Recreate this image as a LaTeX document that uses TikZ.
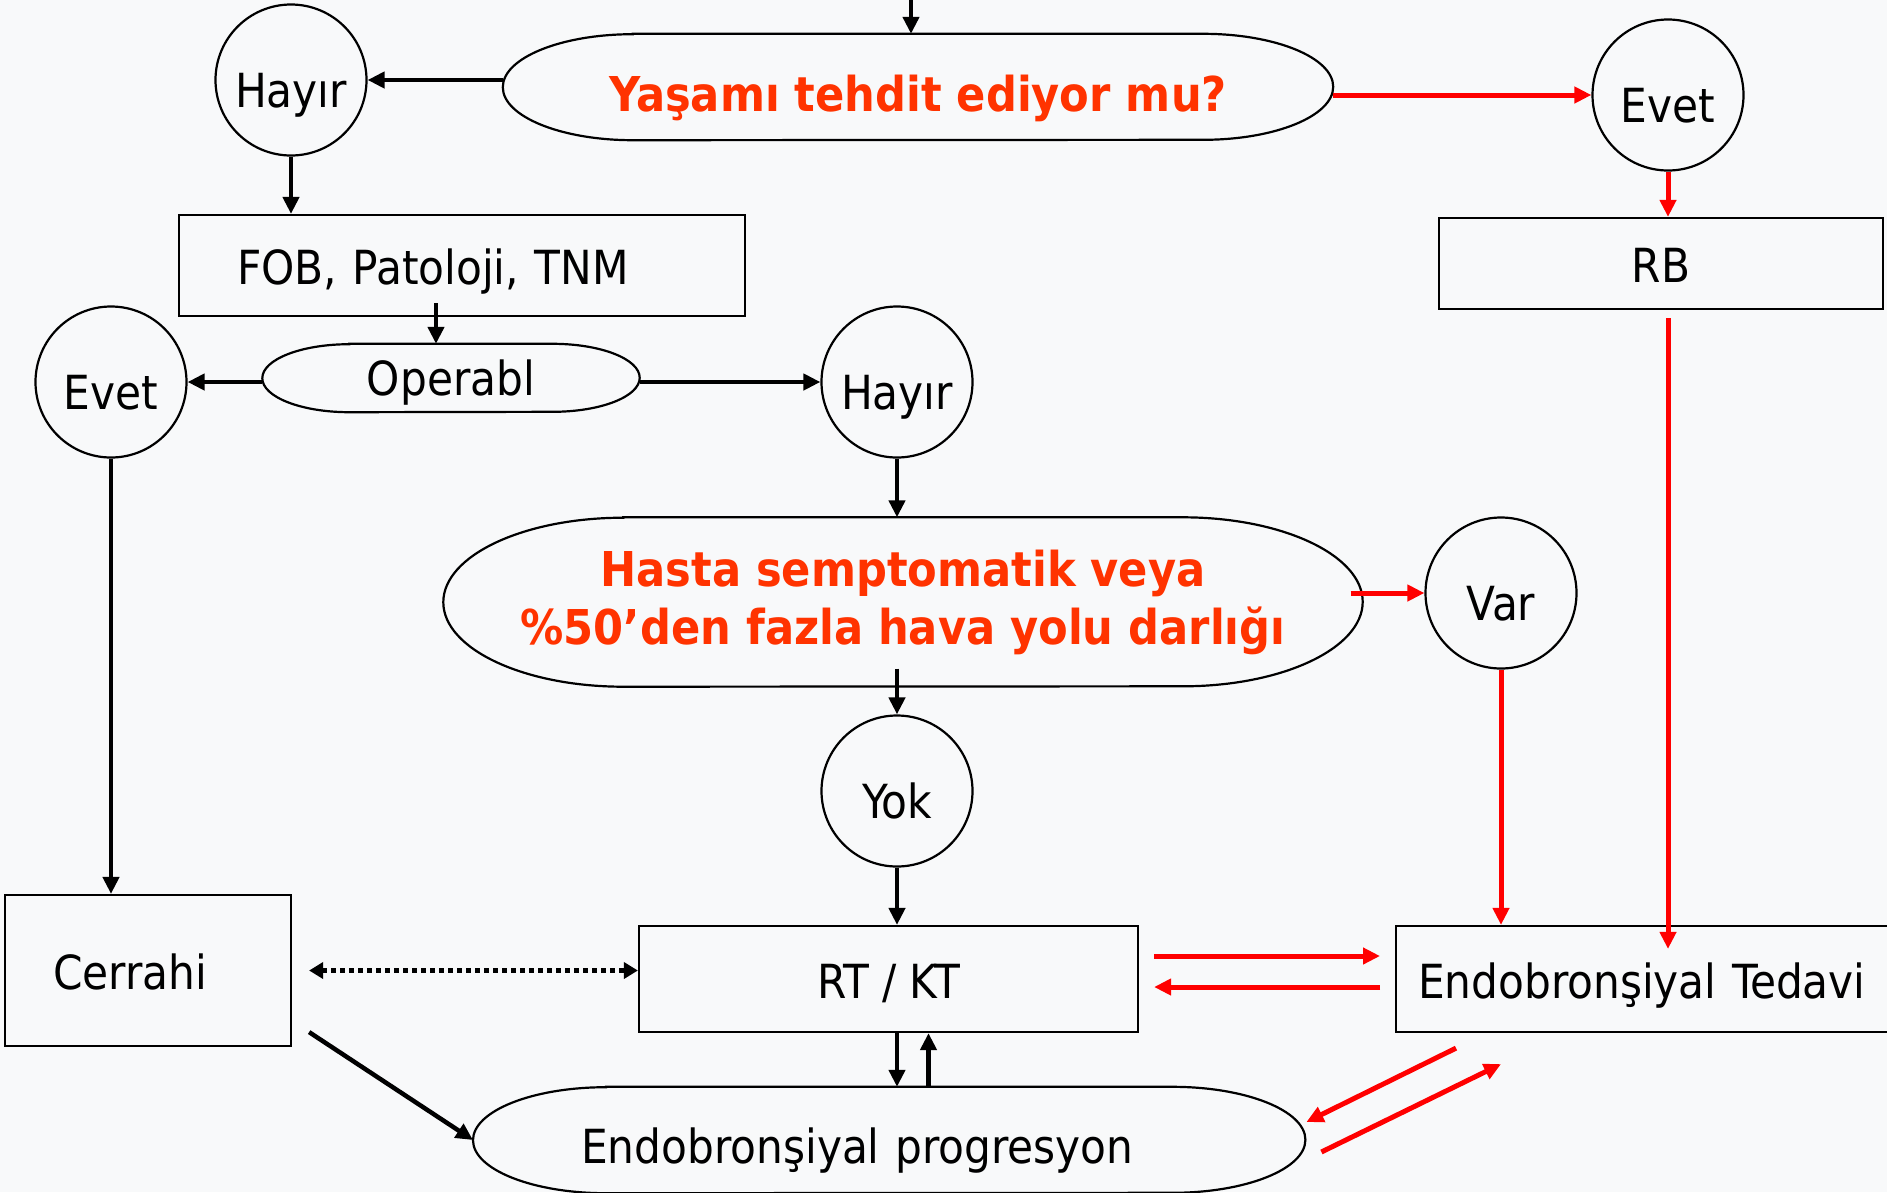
\documentclass[tikz,border=0pt]{standalone}
\usepackage{fontspec}
\setmainfont{DejaVu Sans Condensed}
\usetikzlibrary{arrows.meta}
\definecolor{bg}{RGB}{248,249,250}
\definecolor{que}{RGB}{255,51,0}
\definecolor{yes}{RGB}{255,0,0}
% pill outline round a named node: #1 node, #2 x radius, #3 y radius
\newcommand{\pill}[3]{%
  \draw[line width=2.2pt] ([xshift=#2pt]#1.north west) -- ([xshift=-#2pt]#1.north east)
    arc[start angle=90, end angle=-90, x radius=#2pt, y radius=#3pt]
    -- ([xshift=#2pt]#1.south west)
    arc[start angle=270, end angle=90, x radius=#2pt, y radius=#3pt] -- cycle;}
\tikzset{
  txt/.style={font=\fontsize{47}{56}\selectfont},
  ask/.style={font=\fontsize{48}{58}\selectfont\bfseries, text=que, align=center},
  ring/.style={circle, draw, line width=2.2pt, minimum size=151pt, inner sep=0pt, txt,
    text height=54pt, text depth=0pt},
  box/.style={rectangle, draw, line width=2.2pt, inner sep=0pt, txt,
    text height=38pt, text depth=0pt},
  pillnode/.style={inner sep=0pt},
  arr/.style={-{Triangle[length=17pt,width=16pt]}, line width=4.5pt},
  redarr/.style={arr, draw=yes, line width=5pt},
  dotarr/.style={{Triangle[length=14pt,width=16pt]}-{Triangle[length=14pt,width=16pt]},
    line width=4.5pt, dash pattern=on 5pt off 4pt},
}
\begin{document}
\begin{tikzpicture}[x=1pt, y=-1pt]
  \useasboundingbox (0,0) rectangle (1887,1192);
  \clip (0,0) rectangle (1887,1192);
  \fill[bg] (0,0) rectangle (1887,1192);

  % top question
  \node[pillnode, ask, text height=48pt, text depth=0pt, minimum width=830pt, minimum height=106pt] (yasam) at (918,87) {Yaşamı tehdit ediyor mu?};
  \pill{yasam}{130}{53}
  \node[ring] (hayir1) at (291,80) {Hayır};
  \node[ring] (evet1) at (1668,95) {Evet};
  \node[box, minimum width=444pt, minimum height=91pt] (rb) at (1661,263.5) {RB};
  \node[box, inner xsep=58pt, text width=450pt, align=left, minimum height=101pt] (fob) at (462,265.5) {FOB, Patoloji, TNM};

  % operability
  \node[pillnode, txt, text height=34pt, text depth=0pt, minimum width=377pt, minimum height=68pt] (operabl) at (451,378) {Operabl};
  \pill{operabl}{87}{34}
  \node[ring] (evet2) at (111,382) {Evet};
  \node[ring] (hayir2) at (897,382) {Hayır};

  % symptoms
  \node[pillnode, ask, minimum width=919pt, minimum height=169pt] (hasta) at (903,602) {Hasta semptomatik veya\\\%50’den fazla hava yolu darlığı};
  \pill{hasta}{180}{84.5}
  \node[ring] (var) at (1501,593) {Var};
  \node[ring] (yok) at (897,791) {Yok};

  % treatments
  \node[box, inner xsep=48pt, text width=190pt, align=left, minimum height=151pt] (cerrahi) at (148,970.5) {Cerrahi};
  \node[box, minimum width=499pt, minimum height=106pt] (rtkt) at (888.5,979) {RT / KT};
  \node[box, anchor=west, inner xsep=22pt, text width=483pt, align=left, minimum height=106pt] (tedavi) at (1395,979) {Endobronşiyal Tedavi};
  \node[pillnode, txt, text height=46pt, text depth=0pt, anchor=west, inner xsep=108pt, text width=616pt, align=left, minimum height=106pt] (progresyon) at (473,1140) {Endobronşiyal progresyon};
  \pill{progresyon}{133}{53}

  % connectors
  \coordinate (entry) at (911,0);
  \draw[arr] (entry) -- (entry |- yasam.north);
  \draw[arr] (yasam.west |- hayir1.east) -- (hayir1.east);
  \draw[redarr] (yasam.east |- evet1.west) -- (evet1.west);
  \draw[redarr] (evet1.south) -- (evet1.south |- rb.north);
  \draw[arr] (hayir1.south) -- (hayir1.south |- fob.north);
  \draw[arr] ([xshift=-26pt,yshift=14pt]fob.south) -- ([xshift=-15pt]operabl.north);
  \draw[arr] (operabl.west |- evet2.east) -- (evet2.east);
  \draw[arr] (operabl.east |- hayir2.west) -- (hayir2.west);
  \draw[arr] (hayir2.south) -- (hayir2.south |- hasta.north);
  \draw[redarr, shorten <=-12pt] (hasta.east |- var.west) -- (var.west);
  \draw[arr, shorten <=-18pt] (yok.north |- hasta.south) -- (yok.north);
  \draw[arr] (yok.south) -- (yok.south |- rtkt.north);
  \draw[arr] (evet2.south) -- (evet2.south |- cerrahi.north);
  \draw[redarr] (var.south) -- (var.south |- tedavi.north);
  \draw[redarr, shorten <=8pt, shorten >=-24pt] (rb.south -| evet1) -- (tedavi.north -| evet1);
  \draw[redarr, shorten <=15pt, shorten >=15pt] ([yshift=23pt]rtkt.east) -- ([yshift=23pt]tedavi.west);
  \draw[redarr, shorten <=15pt, shorten >=15pt] ([yshift=-8pt]tedavi.west) -- ([yshift=-8pt]rtkt.east);
  \draw[dotarr, shorten <=17pt] (cerrahi.east) -- (cerrahi.east -| rtkt.west);
  \draw[arr] (rtkt.south -| yok) -- (yok |- progresyon.north);
  \draw[arr] ([xshift=40pt]rtkt.south |- progresyon.north) -- ([xshift=40pt]rtkt.south);
  \draw[arr] ([shift={(17pt,15pt)}]cerrahi.south east) -- (progresyon.west);
  \draw[redarr] ([shift={(61pt,-15pt)}]tedavi.south west) -- ([shift={(1pt,18pt)}]progresyon.east);
  \draw[redarr] ([shift={(16pt,-12pt)}]progresyon.east) -- ([shift={(106pt,-31pt)}]tedavi.south west);
\end{tikzpicture}
\end{document}
